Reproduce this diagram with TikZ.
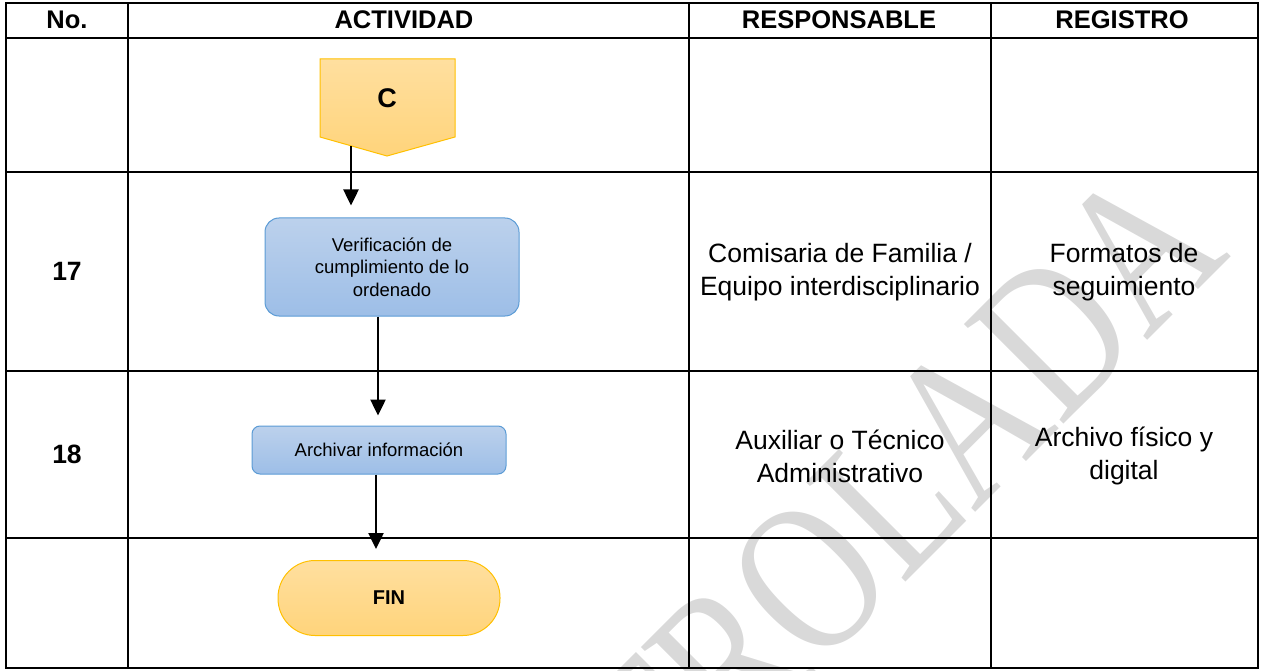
\documentclass[tikz,border=0pt]{standalone}
\usepackage{fontspec}
\setmainfont{Liberation Sans}
\newfontfamily\wmfont{Liberation Serif}
\usetikzlibrary{arrows.meta}

\definecolor{proctop}{HTML}{BCD1EC}
\definecolor{procbot}{HTML}{9DBEE7}
\definecolor{procline}{HTML}{5B9BD5}
\definecolor{termtop}{HTML}{FFDF9F}
\definecolor{termbot}{HTML}{FFD47B}
\definecolor{termline}{HTML}{FFC000}

\begin{document}
\begin{tikzpicture}[x=1pt,y=-1pt,
    grid/.style={line width=2.5pt},
    head/.style={font=\fontsize{25.5}{30}\selectfont\bfseries},
    num/.style={font=\fontsize{26.5}{31}\selectfont\bfseries},
    cell/.style={align=center,font=\fontsize{26.5}{33}\selectfont},
    proc/.style={draw=procline,line width=1pt,top color=proctop,bottom color=procbot,
        minimum width=254pt,inner sep=0pt,align=center,font=\fontsize{18.5}{22.5}\selectfont},
    term/.style={draw=termline,line width=1pt,top color=termtop,bottom color=termbot},
    flow/.style={line width=2.5pt,-{Triangle[width=15pt,length=16pt]}}]

    \useasboundingbox (0,0) rectangle (1261,671);

    % marca de agua
    \begin{scope}
        \clip (0,0) rectangle (1261,671);
        \node[rotate=45,anchor=base east,inner sep=0pt,text=black!15,
            font=\wmfont\fontsize{215}{215}\selectfont] (marca) at (1232,256)
            {\scalebox{0.78}[1]{CONTROLADA}};
    \end{scope}

    % tabla
    \draw[grid] (6,3) rectangle (1258,668);
    \foreach \y in {38,172,371,538}
        \draw[grid] (6,\y) -- (1258,\y);
    \foreach \x in {128,689,991}
        \draw[grid] (\x,3) -- (\x,668);

    \node[head] (hno) at (67,20) {No.};
    \node[head] (hact) at (404,20) {ACTIVIDAD};
    \node[head] (hresp) at (839,20) {RESPONSABLE};
    \node[head] (hreg) at (1122,20) {REGISTRO};

    % conector C
    \path[term] (320,59) -- (455,59) -- (455,137) -- (387,156) -- (320,137) -- cycle;
    \node[minimum width=135pt,minimum height=78pt,font=\fontsize{27}{30}\selectfont\bfseries] (conC) at (387,98) {C};

    \node[proc,minimum height=98pt,rounded corners=14pt] (verif) at (392,267) {Verificación de\\cumplimiento de lo\\ordenado};
    \node[proc,minimum height=48pt,rounded corners=8pt] (archivar) at (379,450) {Archivar información};
    \node[term,minimum width=222pt,minimum height=75pt,rounded corners=37pt,
        font=\fontsize{20}{24}\selectfont\bfseries] (fin) at (389,598) {FIN};

    \draw[flow] ([xshift=-36pt,yshift=-9pt]conC.south) -- ([xshift=-41pt,yshift=12pt]verif.north);
    \draw[flow] ([xshift=-14pt]verif.south) -- ([xshift=-1pt,yshift=10pt]archivar.north);
    \draw[flow] ([xshift=-3pt]archivar.south) -- ([xshift=-13pt,yshift=11pt]fin.north);

    \node[num] (n17) at (67,271) {17};
    \node[num] (n18) at (67,454) {18};
    \node[cell] (resp17) at (840,272) {Comisaria de Familia /\\Equipo interdisciplinario};
    \node[cell] (reg17) at (1124,272) {Formatos de\\seguimiento};
    \node[cell] (resp18) at (840,456) {Auxiliar o Técnico\\Administrativo};
    \node[cell] (reg18) at (1124,456) {Archivo físico y\\digital};
\end{tikzpicture}
\end{document}
